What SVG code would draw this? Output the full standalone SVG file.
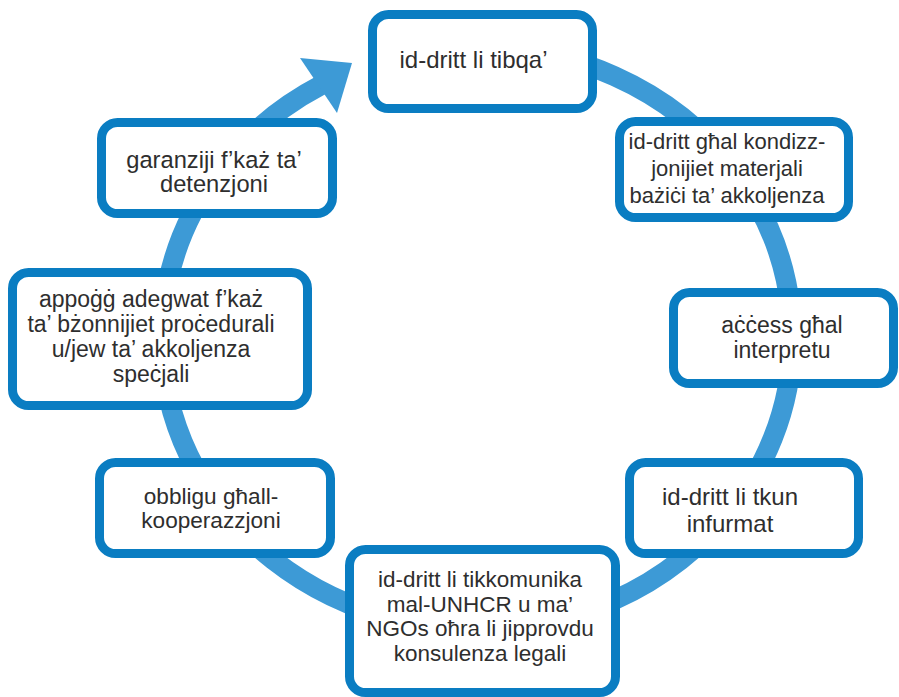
<svg xmlns="http://www.w3.org/2000/svg" width="899" height="697" viewBox="0 0 899 697">
<style>
.box{fill:#ffffff;stroke:#0a7dc2;stroke-width:9}
.t{font-family:"Liberation Sans",Arial,sans-serif;fill:#2e2e2e;text-anchor:middle}
.ring{fill:none;stroke:#3d9ad6;stroke-width:20}
.head{fill:#3d9ad6}
</style>
<rect width="899" height="697" fill="#ffffff"/>
<g id="connectors">
<path class="ring" d="M 322 84.7 A 315 291 0 1 0 477 47"/>
<polygon class="head" points="300,58 352,63 337,113"/>
</g>
<g id="node1">
<rect class="box" x="372.5" y="14.5" width="220" height="94" rx="16"/>
<text class="t" font-size="24" x="473.5" y="68">id-dritt li tibqa’</text>
</g>
<g id="node2">
<rect class="box" x="619.5" y="121.5" width="229" height="96" rx="16"/>
<text class="t" font-size="22" x="727" y="149">id-dritt għal kondizz-</text>
<text class="t" font-size="22" x="727" y="176">jonijiet materjali</text>
<text class="t" font-size="22" x="727" y="203">bażiċi ta’ akkoljenza</text>
</g>
<g id="node3">
<rect class="box" x="673.5" y="292.5" width="220" height="91" rx="16"/>
<text class="t" font-size="23" x="782" y="333">aċċess għal</text>
<text class="t" font-size="23" x="782" y="358">interpretu</text>
</g>
<g id="node4">
<rect class="box" x="629.5" y="462.5" width="229" height="91" rx="16"/>
<text class="t" font-size="24" x="730" y="505">id-dritt li tkun</text>
<text class="t" font-size="24" x="730" y="532">infurmat</text>
</g>
<g id="node5">
<rect class="box" x="349.5" y="549.5" width="266" height="143" rx="16"/>
<text class="t" font-size="22.5" x="480" y="587">id-dritt li tikkomunika</text>
<text class="t" font-size="22.5" x="480" y="611.5">mal-UNHCR u ma’</text>
<text class="t" font-size="22.5" x="480" y="636">NGOs oħra li jipprovdu</text>
<text class="t" font-size="22.5" x="480" y="660.5">konsulenza legali</text>
</g>
<g id="node6">
<rect class="box" x="99.5" y="462.5" width="231" height="91" rx="16"/>
<text class="t" font-size="22.6" x="211" y="504">obbligu għall-</text>
<text class="t" font-size="22.6" x="211" y="528">kooperazzjoni</text>
</g>
<g id="node7">
<rect class="box" x="12.5" y="272.5" width="295" height="133" rx="16"/>
<text class="t" font-size="23" x="151" y="307">appoġġ adegwat f’każ</text>
<text class="t" font-size="23" x="151" y="332">ta’ bżonnijiet proċedurali</text>
<text class="t" font-size="23" x="151" y="357">u/jew ta’ akkoljenza</text>
<text class="t" font-size="23" x="151" y="382">speċjali</text>
</g>
<g id="node8">
<rect class="box" x="101.5" y="122.5" width="231" height="91" rx="16"/>
<text class="t" font-size="23.7" x="214" y="168">garanziji f’każ ta’</text>
<text class="t" font-size="23.7" x="214" y="192">detenzjoni</text>
</g>
</svg>
